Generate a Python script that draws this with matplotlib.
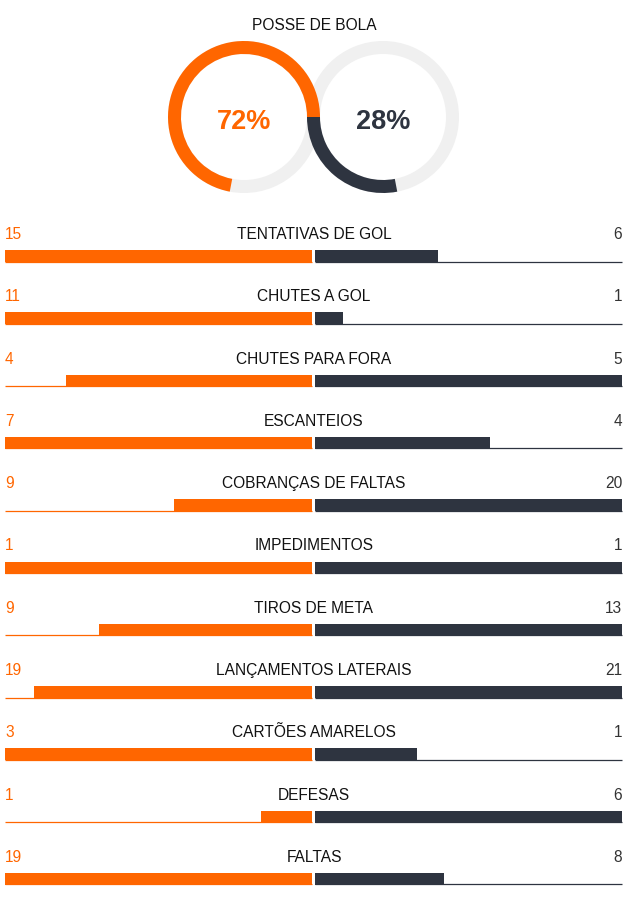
import matplotlib
matplotlib.use("Agg")
import matplotlib.pyplot as plt
from matplotlib.patches import Wedge

plt.rcParams['font.family'] = ['Liberation Sans', 'DejaVu Sans']

# ---- data ----
possession_title = "POSSE DE BOLA"
possession = [72, 28]
categories = ["TENTATIVAS DE GOL", "CHUTES A GOL", "CHUTES PARA FORA", "ESCANTEIOS",
              "COBRANÇAS DE FALTAS", "IMPEDIMENTOS", "TIROS DE META",
              "LANÇAMENTOS LATERAIS", "CARTÕES AMARELOS", "DEFESAS", "FALTAS"]
home_values = [15, 11, 4, 7, 9, 1, 9, 19, 3, 1, 19]
away_values = [6, 1, 5, 4, 20, 1, 13, 21, 1, 6, 8]

ORANGE = "#ff6600"
DARK = "#2e3440"
GRAY = "#f0f0f0"
TEXT = "#111111"

W, H = 630, 912
fig = plt.figure(figsize=(W / 100, H / 100), dpi=100)
ax = fig.add_axes([0, 0, 1, 1])
ax.set_xlim(0, W)
ax.set_ylim(H, 0)
ax.axis("off")

# ---- possession donuts ----
ax.text(314, 25, possession_title, ha="center", va="center", fontsize=11.2, color=TEXT)
cy = 118
r_out, ring_w = 76, 13
lc, rc = 244, 383
ax.add_patch(Wedge((lc, cy), r_out, 0, 360, width=ring_w, color=GRAY, lw=0))
ax.add_patch(Wedge((rc, cy), r_out, 0, 360, width=ring_w, color=GRAY, lw=0))
h_ang = possession[0] / 100 * 360
a_ang = possession[1] / 100 * 360
ax.add_patch(Wedge((lc, cy), r_out, -h_ang, 0, width=ring_w, color=ORANGE, lw=0))
ax.add_patch(Wedge((rc, cy), r_out, 180 - a_ang, 180, width=ring_w, color=DARK, lw=0))
ax.text(lc, cy + 4, f"{possession[0]}%", ha="center", va="center", fontsize=19.5,
        fontweight="bold", color=ORANGE)
ax.text(rc, cy + 4, f"{possession[1]}%", ha="center", va="center", fontsize=19.5,
        fontweight="bold", color=DARK)

# ---- stat rows ----
x_left, x_mid_l, x_mid_r, x_right = 5, 312, 315, 622
half = x_mid_l - x_left
y0, pitch = 233, 62.3
bar_h = 12
for i, (cat, hv, av) in enumerate(zip(categories, home_values, away_values)):
    y = y0 + i * pitch
    m = max(hv, av)
    ax.text(x_left, y + 1.5, str(hv), ha="left", va="center", fontsize=11.2, color=ORANGE)
    ax.text(x_right, y + 1.5, str(av), ha="right", va="center", fontsize=11.2, color="#333333")
    ax.text(314, y + 1.5, cat, ha="center", va="center", fontsize=11.2, color=TEXT)
    by = y + 18
    wl = hv / m * half
    wr = av / m * half
    ax.barh(by, wl, left=x_mid_l - wl, height=bar_h, align="edge", color=ORANGE, lw=0)
    ax.barh(by, wr, left=x_mid_r, height=bar_h, align="edge", color=DARK, lw=0)
    ax.plot([x_left, x_mid_l], [by + bar_h - 0.5] * 2, color=ORANGE, lw=0.9, solid_capstyle="butt")
    ax.plot([x_mid_r, x_right], [by + bar_h - 0.5] * 2, color=DARK, lw=0.9, solid_capstyle="butt")

fig.savefig("out.png", dpi=100, facecolor="white")
